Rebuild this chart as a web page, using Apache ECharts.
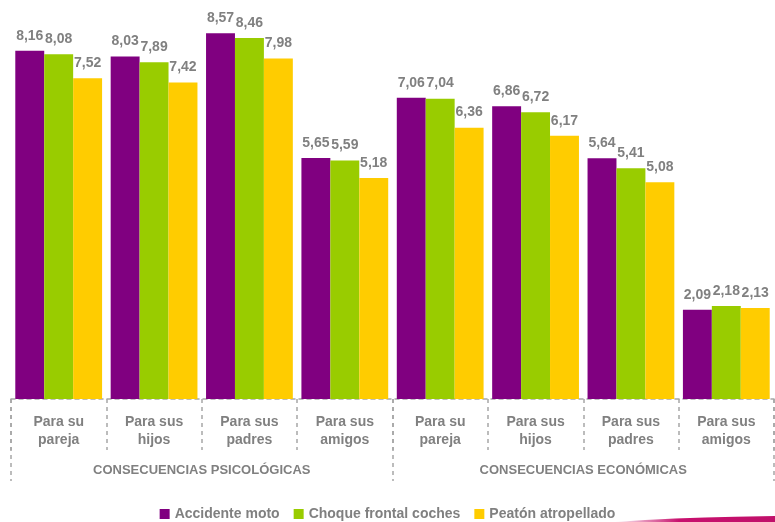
<!DOCTYPE html>
<html><head><meta charset="utf-8">
<script src="https://cdn.jsdelivr.net/npm/echarts@6/dist/echarts.min.js"></script>
<style>html,body{margin:0;padding:0;background:#fff}#c{width:775px;height:522px}</style>
</head><body><div id="c"></div>
<script>
const categories = ['Para su\npareja','Para sus\nhijos','Para sus\npadres','Para sus\namigos','Para su\npareja','Para sus\nhijos','Para sus\npadres','Para sus\namigos'];
const groups = ['CONSECUENCIAS PSICOLÓGICAS','CONSECUENCIAS ECONÓMICAS'];
const seriesNames = ['Accidente moto','Choque frontal coches','Peatón atropellado'];
const accidenteMoto = [8.16, 8.03, 8.57, 5.65, 7.06, 6.86, 5.64, 2.09];
const choqueFrontal = [8.08, 7.89, 8.46, 5.59, 7.04, 6.72, 5.41, 2.18];
const peatonAtropellado = [7.52, 7.42, 7.98, 5.18, 6.36, 6.17, 5.08, 2.13];
const colors = ['#800080','#99CC00','#FFCC00'];
const font = 'Liberation Sans, Arial, sans-serif';
const gray = '#808080';
const chart = echarts.init(document.getElementById('c'));
const lbl = {show:true, position:'top', distance:8, color:gray, fontWeight:'bold', fontSize:14, fontFamily:font,
  formatter: p => p.value.toFixed(2).replace('.', ',')};
const dash = {color:'#a6a6a6', width:1.5, type:[4,4]};
chart.setOption({
  animation:false,
  color:colors,
  grid:{left:11, right:1, top:15, bottom:123, containLabel:false},
  legend:{bottom:1, left:'center', itemWidth:10, itemHeight:10, itemGap:14, icon:'rect',
    textStyle:{color:gray, fontWeight:'bold', fontSize:14, fontFamily:font}, padding:0},
  xAxis:[
    {type:'category', data:categories, position:'bottom',
      axisLine:{show:true, lineStyle:dash},
      axisTick:{show:true, interval:0, length:51, lineStyle:dash},
      axisLabel:{interval:0, margin:14, color:gray, fontWeight:'bold', fontSize:14, lineHeight:18, fontFamily:font}},
    {type:'category', data:groups, position:'bottom',
      axisLine:{show:false},
      axisTick:{show:true, interval:0, length:82, lineStyle:dash},
      axisLabel:{interval:0, margin:65, color:gray, fontWeight:'bold', fontSize:13, fontFamily:font}}
  ],
  yAxis:{type:'value', min:0, max:9, show:false, splitLine:{show:false}},
  series:[
    {name:seriesNames[0], type:'bar', data:accidenteMoto, barGap:'0%', barCategoryGap:'9%', label:lbl},
    {name:seriesNames[1], type:'bar', data:choqueFrontal, barGap:'0%', barCategoryGap:'9%', label:lbl},
    {name:seriesNames[2], type:'bar', data:peatonAtropellado, barGap:'0%', barCategoryGap:'9%', label:lbl}
  ]
});
try {
  chart.setOption({graphic:[{type:'polygon', silent:true, z:-1,
    shape:{points:[[615,522],[645,520],[675,518.5],[705,517.5],[735,516.8],[775,516],[775,522]]},
    style:{fill:new echarts.graphic.LinearGradient(0,0,1,0,[{offset:0,color:'rgba(200,30,110,0.05)'},{offset:0.4,color:'#c8106e'},{offset:1,color:'#c0106a'}])}}]});
} catch(e) {}
</script></body></html>
